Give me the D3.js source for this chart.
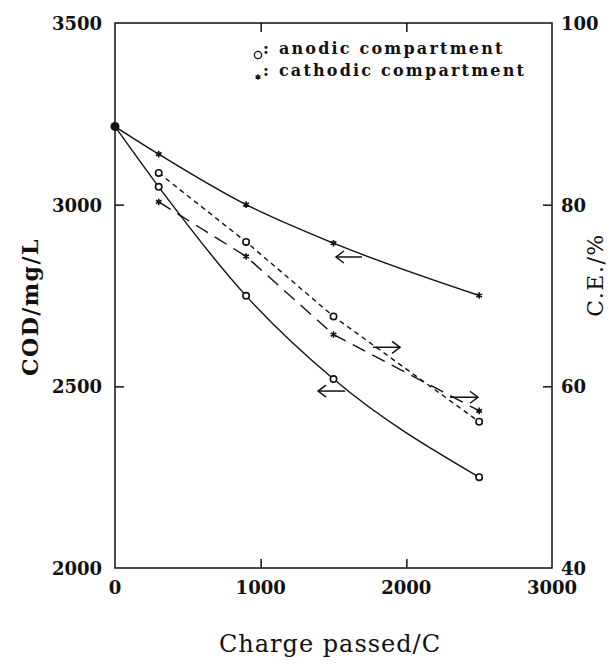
<!DOCTYPE html>
<html>
<head>
<meta charset="utf-8">
<script src="https://cdn.jsdelivr.net/npm/d3@7"></script>
<style>
  html, body { margin: 0; padding: 0; background: #fff; }
  svg { display: block; }
</style>
</head>
<body>
<svg id="chart" width="611" height="664"></svg>
<script>
// ---- data ----
const charge = [300, 900, 1500, 2500];
const initialCharge = 0;
const initialCOD = 3215;
const codAnodic = [3049, 2749, 2520, 2250];
const codCathodic = [3139, 3000, 2894, 2750];
const ceAnodic = [83.5, 75.9, 67.7, 56.1];
const ceCathodic = [80.3, 74.3, 65.7, 57.3];
const xTicks = [0, 1000, 2000, 3000];
const yLeftTicks = [2000, 2500, 3000, 3500];
const yRightTicks = [40, 60, 80, 100];
// arrow annotations: [x from, x to, value, axis, direction]
const arrows = [
  { x1: 1517, x2: 1696, v: 2856, axis: "left", dir: "left" },
  { x1: 1394, x2: 1579, v: 2487, axis: "left", dir: "left" },
  { x1: 1771, x2: 1957, v: 64.3, axis: "right", dir: "right" },
  { x1: 2300, x2: 2492, v: 58.8, axis: "right", dir: "right" }
];

const svg = d3.select("#chart");
const L = 115, R = 552, T = 23, B = 568;
const x = d3.scaleLinear().domain([0, 3000]).range([L, R]);
const yL = d3.scaleLinear().domain([2000, 3500]).range([B, T]);
const yR = d3.scaleLinear().domain([40, 100]).range([B, T]);

const serif = "'DejaVu Serif', 'Liberation Serif', serif";
const ink = "#111";

// frame
svg.append("rect").attr("x", L).attr("y", T).attr("width", R - L).attr("height", B - T)
  .attr("fill", "none").attr("stroke", ink).attr("stroke-width", 1.5);

// axes (inward ticks)
const tl = 9;
const gB = svg.append("g").attr("transform", `translate(0,${B})`)
  .call(d3.axisTop(x).tickValues([1000, 2000]).tickSize(tl).tickFormat(""));
const gT = svg.append("g").attr("transform", `translate(0,${T})`)
  .call(d3.axisBottom(x).tickValues([1000, 2000]).tickSize(tl).tickFormat(""));
const gL = svg.append("g").attr("transform", `translate(${L},0)`)
  .call(d3.axisRight(yL).tickValues([2500, 3000]).tickSize(tl).tickFormat(""));
const gR = svg.append("g").attr("transform", `translate(${R},0)`)
  .call(d3.axisLeft(yR).tickValues([60, 80]).tickSize(tl).tickFormat(""));
[gB, gT, gL, gR].forEach(g => {
  g.select(".domain").remove();
  g.selectAll("line").attr("stroke", ink).attr("stroke-width", 1.5);
});

// tick labels
const lblStyle = s => s.attr("font-family", serif).attr("font-weight", "bold")
  .attr("font-size", 18).attr("fill", ink);
svg.append("g").selectAll("text").data(xTicks).join("text")
  .attr("x", d => x(d)).attr("y", B + 26).attr("text-anchor", "middle")
  .text(d => d).call(lblStyle);
svg.append("g").selectAll("text").data(yLeftTicks).join("text")
  .attr("x", L - 13).attr("y", d => yL(d) + 7).attr("text-anchor", "end")
  .text(d => d).call(lblStyle);
svg.append("g").selectAll("text").data(yRightTicks).join("text")
  .attr("x", R + 9).attr("y", d => yR(d) + 7).attr("text-anchor", "start")
  .text(d => d).call(lblStyle);

// axis titles
svg.append("text").attr("x", 330).attr("y", 652).attr("text-anchor", "middle")
  .attr("font-family", serif).attr("font-size", 24).attr("letter-spacing", 1)
  .attr("fill", ink).text("Charge passed/C");
svg.append("text").attr("transform", "translate(38,307) rotate(-90)")
  .attr("text-anchor", "middle").attr("font-family", serif).attr("font-weight", "bold")
  .attr("font-size", 22).attr("letter-spacing", 1.5).attr("fill", ink).text("COD/mg/L");
svg.append("text").attr("transform", "translate(603,275) rotate(-90)")
  .attr("text-anchor", "middle").attr("font-family", serif)
  .attr("font-size", 22).attr("letter-spacing", 1.5).attr("fill", ink).text("C.E./%");

// lines
const codLine = d3.line().x(d => x(d[0])).y(d => yL(d[1])).curve(d3.curveMonotoneX);
const ceLine = d3.line().x(d => x(d[0])).y(d => yR(d[1]));
const codA = [[initialCharge, initialCOD], ...charge.map((c, i) => [c, codAnodic[i]])];
const codC = [[initialCharge, initialCOD], ...charge.map((c, i) => [c, codCathodic[i]])];
const ceA = charge.map((c, i) => [c, ceAnodic[i]]);
const ceC = charge.map((c, i) => [c, ceCathodic[i]]);

svg.append("path").attr("d", codLine(codA)).attr("fill", "none").attr("stroke", ink).attr("stroke-width", 1.4);
svg.append("path").attr("d", codLine(codC)).attr("fill", "none").attr("stroke", ink).attr("stroke-width", 1.4);
svg.append("path").attr("d", ceLine(ceA)).attr("fill", "none").attr("stroke", ink)
  .attr("stroke-width", 1.4).attr("stroke-dasharray", "5,4");
svg.append("path").attr("d", ceLine(ceC)).attr("fill", "none").attr("stroke", ink)
  .attr("stroke-width", 1.4).attr("stroke-dasharray", "14,8");

// markers
function circles(data, yScale) {
  svg.append("g").selectAll("circle").data(data).join("circle")
    .attr("cx", d => x(d[0])).attr("cy", d => yScale(d[1])).attr("r", 3.2)
    .attr("fill", "#fff").attr("stroke", ink).attr("stroke-width", 1.6);
}
function stars(data, yScale) {
  const sym = d3.symbol().type(d3.symbolAsterisk).size(30);
  svg.append("g").selectAll("path").data(data).join("path")
    .attr("transform", d => `translate(${x(d[0])},${yScale(d[1])})`)
    .attr("d", sym).attr("fill", "none").attr("stroke", ink).attr("stroke-width", 1.6);
}
circles(codA.slice(1), yL);
stars(codC.slice(1), yL);
circles(ceA, yR);
stars(ceC, yR);
svg.append("circle").attr("cx", x(initialCharge)).attr("cy", yL(initialCOD)).attr("r", 4.5).attr("fill", ink);

// arrows
arrows.forEach(a => {
  const ys = a.axis === "left" ? yL : yR;
  const y0 = ys(a.v), xa = x(a.x1), xb = x(a.x2);
  svg.append("line").attr("x1", xa).attr("x2", xb).attr("y1", y0).attr("y2", y0)
    .attr("stroke", ink).attr("stroke-width", 1.5);
  const tip = a.dir === "left" ? xa : xb;
  const s = a.dir === "left" ? 1 : -1;
  svg.append("path")
    .attr("d", `M${tip + s * 8},${y0 - 6}L${tip},${y0}L${tip + s * 8},${y0 + 6}`)
    .attr("fill", "none").attr("stroke", ink).attr("stroke-width", 1.5);
});

// legend
const legend = svg.append("g").attr("font-family", serif).attr("font-weight", "bold")
  .attr("font-size", 16).attr("fill", ink);
legend.append("circle").attr("cx", 258).attr("cy", 55).attr("r", 3.6)
  .attr("fill", "none").attr("stroke", ink).attr("stroke-width", 1.3);
legend.append("text").attr("x", 263).attr("y", 54).attr("letter-spacing", 2.2)
  .text(": anodic compartment");
legend.append("path").attr("transform", "translate(258,77)")
  .attr("d", d3.symbol().type(d3.symbolAsterisk).size(22)).attr("fill", "none")
  .attr("stroke", ink).attr("stroke-width", 1.4);
legend.append("text").attr("x", 263).attr("y", 76).attr("letter-spacing", 2.2)
  .text(": cathodic compartment");
</script>
</body>
</html>
